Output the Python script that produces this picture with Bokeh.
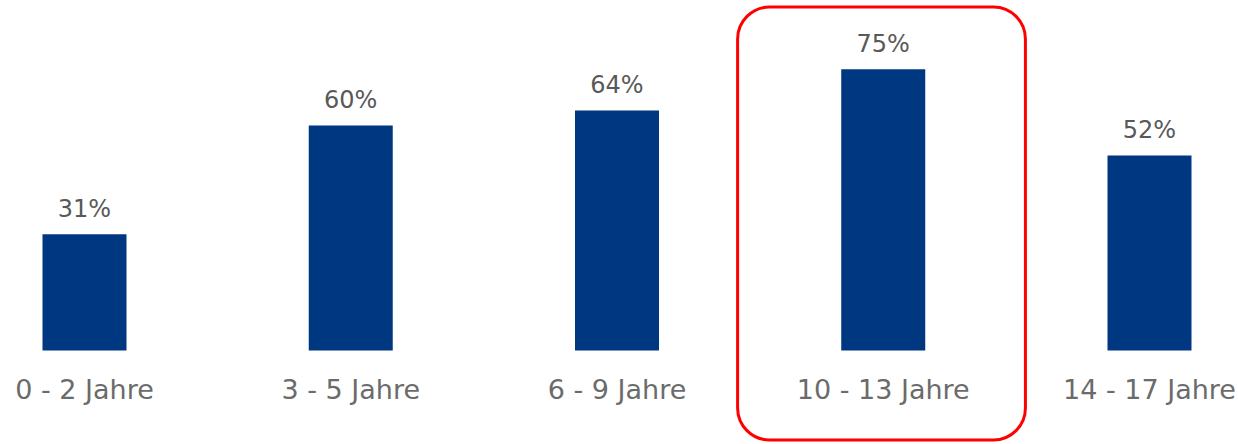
from bokeh.plotting import figure
from bokeh.models import Range1d, ColumnDataSource
from bokeh.core.properties import value
from bokeh.embed import file_html
from bokeh.resources import INLINE

categories = ["0 - 2 Jahre", "3 - 5 Jahre", "6 - 9 Jahre", "10 - 13 Jahre", "14 - 17 Jahre"]
values = [31, 60, 64, 75, 52]
value_labels = ["31%", "60%", "64%", "75%", "52%"]
highlight_index = 3

xs = list(range(len(categories)))
src = ColumnDataSource(dict(x=xs, top=values, cat=categories, lab=value_labels))

p = figure(width=1238, height=444, output_backend="svg", toolbar_location=None,
           x_range=Range1d(-0.3155, 4.3343), y_range=Range1d(-25.07, 93.33),
           min_border=0, min_border_left=0, min_border_right=0,
           min_border_top=0, min_border_bottom=0)
p.axis.visible = False
p.grid.visible = False
p.outline_line_color = None
p.background_fill_color = "white"
p.border_fill_color = "white"

p.vbar(x="x", top="top", bottom=0, width=0.3155, source=src,
       fill_color="#003781", line_color=None)

p.text(x="x", y="top", text="lab", source=src, y_offset=-25,
       text_align="center", text_baseline="middle",
       text_font=value("DejaVu Sans"), text_font_size="24px", text_color="#595959")

p.text(x="x", y=0, text="cat", source=src, y_offset=39,
       text_align="center", text_baseline="middle",
       text_font=value("DejaVu Sans"), text_font_size="27px", text_color="#6b6b6b")

p.quad(left=[highlight_index - 0.547], right=[highlight_index + 0.534],
       top=[91.6], bottom=[-23.87], border_radius=32,
       fill_color=None, line_color="#ff0000", line_width=3)

open("out.html", "w").write(file_html(p, INLINE))
